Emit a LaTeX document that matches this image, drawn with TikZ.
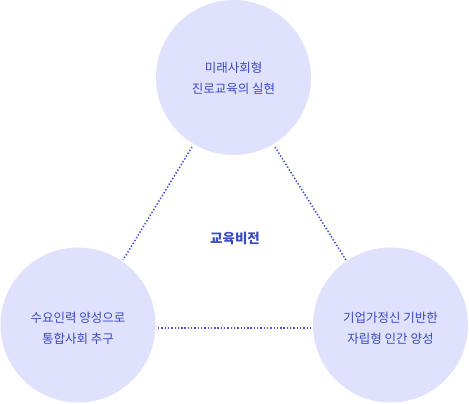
\documentclass[tikz,border=0pt]{standalone}
\usepackage{fontspec}
\newfontfamily\kr{Noto Sans CJK KR}
\newfontfamily\krb{Noto Sans CJK KR Medium}
\definecolor{circfill}{RGB}{223,225,253}
\definecolor{txtblue}{RGB}{58,74,196}
\definecolor{lineblue}{RGB}{70,86,214}
\begin{document}
\begin{tikzpicture}[x=1pt,y=-1pt,
  circ/.style={circle,fill=circfill,minimum size=155pt,inner sep=0pt},
  lbl/.style={text=txtblue,font=\kr\fontsize{12.5}{21}\selectfont,align=center},
  dotline/.style={lineblue,line width=1.6pt,dash pattern=on 1.4pt off 1.9pt}]
\useasboundingbox (0,0) rectangle (469,404);
\node[circ] (top) at (233.5,77.5) {};
\node[circ] (left) at (78,325) {};
\node[circ] (right) at (390.5,325) {};
\node[lbl] (toptxt) at (233.5,78) {미래사회형\\진로교육의 실현};
\node[lbl] (lefttxt) at (78,328.5) {수요인력 양성으로\\통합사회 추구};
\node[lbl] (righttxt) at (390.5,328.5) {기업가정신 기반한\\자립형 인간 양성};
\node[text=txtblue,font=\kr\bfseries\fontsize{13.5}{16}\selectfont] (center) at (235,238) {교육비전};
\coordinate (a1) at (192,147);
\coordinate (a2) at (123,260);
\coordinate (b1) at (275,147);
\coordinate (b2) at (346,260);
\coordinate (c1) at (158,328);
\coordinate (c2) at (312,328);
\draw[dotline] (a1) -- (a2);
\draw[dotline] (b1) -- (b2);
\draw[dotline] (c1) -- (c2);
\end{tikzpicture}
\end{document}
